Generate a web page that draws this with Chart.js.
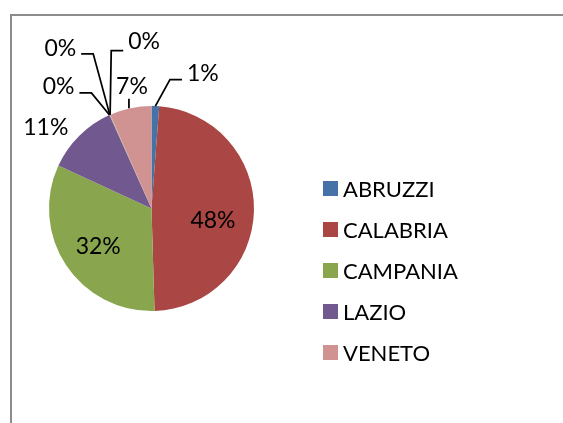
<!DOCTYPE html>
<html>
<head>
<meta charset="utf-8">
<script src="https://cdn.jsdelivr.net/npm/chart.js@4.4.0/dist/chart.umd.min.js"></script>
<style>
  html, body { margin: 0; padding: 0; background: #fff; }
  body { width: 563px; height: 423px; position: relative; overflow: hidden; font-family: Lato, sans-serif; }
  #frame { position: absolute; left: 10px; top: 14px; width: 620px; height: 480px; border: 2px solid #8c8c8c; }
  #wrap { position: absolute; left: 0; top: 0; width: 563px; height: 423px; }
  #legend { position: absolute; left: 323px; top: 168px; margin: 0; padding: 0; list-style: none; }
  #legend li { height: 41px; display: flex; align-items: center; font-size: 22px; color: #000; }
  #legend span.box { width: 15px; height: 15px; margin-right: 5px; display: inline-block; }
</style>
</head>
<body>
<div id="frame"></div>
<div id="wrap"><canvas id="pie" width="563" height="423"></canvas></div>
<ul id="legend"></ul>
<script>
(function() {
  'use strict';

  // Regions and their share (the three tiny slices show as 0%)
  const regions = ['ABRUZZI', 'CALABRIA', 'CAMPANIA', 'LAZIO', '', '', '', 'VENETO'];
  const shares = [1.2, 48.4, 32.4, 11.4, 0.05, 0.05, 0.05, 6.6];
  const colors = ['#4572A7', '#AA4643', '#89A54E', '#71588F', '#4198AF', '#DB843D', '#93A9CF', '#D19392'];

  // Where each percentage label goes, relative to its slice
  const placement = [
    { mode: 'out', dx: 47.5, dy: -33.5, leader: 'elbow', ly: 7 },
    { mode: 'in', r: 0.6, dx: 0, dy: 10 },
    { mode: 'in', r: 0.6, dx: -2, dy: 4 },
    { mode: 'out', dx: -33.5, dy: -8.5, leader: null },
    { mode: 'out', dx: -51, dy: -29, leader: 'elbow', ly: 7 },
    { mode: 'out', dx: -49.5, dy: -67, leader: 'elbow', ly: 6 },
    { mode: 'out', dx: 34, dy: -73.5, leader: 'elbow', ly: 9.5 },
    { mode: 'out', dx: 1.5, dy: -22.5, leader: 'v' }
  ];

  const LABEL_SIZE = 23;

  const pctLabels = {
    id: 'pctLabels',
    afterDatasetsDraw(chart) {
      const ctx = chart.ctx;
      const meta = chart.getDatasetMeta(0);
      const data = chart.data.datasets[0].data;
      const total = data.reduce((a, b) => a + b, 0);
      const capH = LABEL_SIZE * 0.7;

      ctx.save();
      ctx.font = LABEL_SIZE + 'px Lato';
      ctx.fillStyle = '#000';
      ctx.strokeStyle = '#000';
      ctx.lineWidth = 1.75;
      ctx.textAlign = 'center';
      ctx.textBaseline = 'alphabetic';

      meta.data.forEach((arc, i) => {
        const p = arc.getProps(['x', 'y', 'startAngle', 'endAngle', 'outerRadius'], true);
        const mid = (p.startAngle + p.endAngle) / 2;
        const cfg = placement[i];
        const text = Math.round(data[i] / total * 100) + '%';
        const w = ctx.measureText(text).width;
        let cx, cy;

        if (cfg.mode === 'in') {
          cx = p.x + Math.cos(mid) * p.outerRadius * cfg.r + cfg.dx;
          cy = p.y + Math.sin(mid) * p.outerRadius * cfg.r + cfg.dy;
        } else {
          const ax = p.x + Math.cos(mid) * p.outerRadius;
          const ay = p.y + Math.sin(mid) * p.outerRadius;
          cx = ax + cfg.dx;
          cy = ay + cfg.dy;

          if (cfg.leader === 'elbow') {
            const ly = cy + cfg.ly;
            const left = cfg.dx < 0;
            const sx = left ? cx + w / 2 + 5 : cx - w / 2 - 5;
            const ex = left ? sx + 12 : sx - 12;
            ctx.beginPath();
            ctx.moveTo(sx, ly);
            ctx.lineTo(ex, ly);
            ctx.lineTo(ax, ay);
            ctx.stroke();
          } else if (cfg.leader === 'v') {
            ctx.beginPath();
            ctx.moveTo(ax - 1.5, ay);
            ctx.lineTo(ax - 1.5, cy + capH / 2 + 5);
            ctx.stroke();
          }
        }
        ctx.fillText(text, cx, cy + capH / 2);
      });
      ctx.restore();
    }
  };

  function buildLegend() {
    const ul = document.getElementById('legend');
    regions.forEach((name, i) => {
      if (!name) return;
      const li = document.createElement('li');
      const box = document.createElement('span');
      box.className = 'box';
      box.style.background = colors[i];
      li.appendChild(box);
      li.appendChild(document.createTextNode(name));
      ul.appendChild(li);
    });
  }

  function init() {
    buildLegend();
    new Chart(document.getElementById('pie'), {
      type: 'pie',
      data: {
        labels: regions,
        datasets: [{
          data: shares,
          backgroundColor: colors,
          borderWidth: 0
        }]
      },
      options: {
        responsive: false,
        animation: false,
        layout: { padding: { left: 49, top: 106, right: 309, bottom: 112 } },
        plugins: {
          legend: { display: false },
          tooltip: { enabled: false }
        }
      },
      plugins: [pctLabels]
    });
  }

  init();
})();
</script>
</body>
</html>
